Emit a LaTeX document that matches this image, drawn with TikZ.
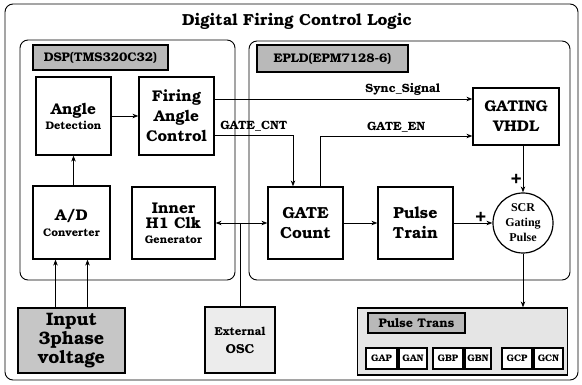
\documentclass[tikz,border=0pt]{standalone}
\usepackage{fontspec}
\setmainfont{TeX Gyre Bonum}
\newfontfamily\scrfont{Liberation Serif}
\usetikzlibrary{arrows.meta}
\begin{document}
\begin{tikzpicture}[x=1pt,y=-1pt,line width=0.9pt,
  blk/.style={shape=rectangle,draw=black,fill=white,line width=1.2pt,align=center,font=\fontsize{15.5}{18}\selectfont\bfseries},
  tag/.style={shape=rectangle,draw=black,fill=gray!55,line width=1.8pt,inner sep=0pt,font=\fontsize{12.5}{14}\selectfont\bfseries},
  cell/.style={shape=rectangle,draw=black,fill=white,line width=1.2pt,inner sep=0pt,minimum height=21,font=\fontsize{9.5}{10}\selectfont\bfseries},
  sig/.style={font=\fontsize{12}{13}\selectfont\bfseries},
  plus/.style={font=\fontsize{18}{18}\selectfont\bfseries,inner sep=1pt},
  arr/.style={-{Stealth[length=6pt,width=4.5pt]}}]
\useasboundingbox (0,0) rectangle (582,385);
% frames
\draw[rounded corners=8pt] (5,4) rectangle (578,380);
\node (title) at (297,21) [font=\fontsize{16}{18}\selectfont\bfseries] {Digital Firing Control Logic};
\draw[rounded corners=8pt] (20,40) rectangle (235,280);
\draw[rounded corners=8pt] (249,41) rectangle (570,280);
\node (dsp) at (100.5,57.5) [tag,minimum width=135,minimum height=25] {DSP(TMS320C32)};
\node (epld) at (332.5,58.5) [tag,minimum width=151,minimum height=27] {EPLD(EPM7128-6)};
% DSP side
\node (angdet) at (73.5,116) [blk,minimum width=75,minimum height=78] {Angle\\[-3pt]{\fontsize{11}{13}\selectfont Detection}};
\node (fac) at (176.5,116) [blk,minimum width=75,minimum height=78,font=\fontsize{15.5}{20}\selectfont\bfseries] {Firing\\Angle\\Control};
\node (adc) at (71.5,222.5) [blk,minimum width=77,minimum height=73] {A/D\\[-2pt]{\fontsize{11}{13}\selectfont Converter}};
\node (clk) at (173.5,223) [blk,minimum width=83,minimum height=72] {Inner\\[-3pt]H1 Clk\\[-3pt]{\fontsize{11}{13}\selectfont Generator}};
\node (input) at (71.5,340.5) [blk,fill=gray!45,line width=1.8pt,minimum width=107,minimum height=65,inner sep=0pt,font=\fontsize{18}{19}\selectfont\bfseries] {Input\\3phase\\voltage};
\node (osc) at (240,340) [blk,fill=gray!15,minimum width=70,minimum height=66] {{\fontsize{11.5}{14}\selectfont External}\\{\fontsize{13}{15}\selectfont OSC}};
% EPLD side
\node (gcnt) at (305.5,223) [blk,minimum width=75,minimum height=72,font=\fontsize{16}{20}\selectfont\bfseries] {GATE\\Count};
\node (ptrain) at (415.5,223) [blk,minimum width=75,minimum height=72,font=\fontsize{16}{20}\selectfont\bfseries] {Pulse\\Train};
\node (gvhdl) at (516,116.5) [blk,minimum width=86,minimum height=57,font=\fontsize{15.5}{20}\selectfont\bfseries] {GATING\\VHDL};
\node (scr) at (523,223) [shape=circle,draw=black,fill=white,line width=1.2pt,minimum size=60,inner sep=0pt,align=center,font=\fontsize{12}{15}\scrfont\bfseries] {SCR\\Gating\\Pulse};
% pulse transformers
\node (ptrans) at (462.5,341.5) [shape=rectangle,draw=black,fill=gray!20,line width=1.2pt,minimum width=210,minimum height=67] {};
\node (ptlabel) at (416.5,323) [tag,minimum width=97,minimum height=20] {Pulse Trans};
\node (gap) at (381.5,358.5) [cell,minimum width=31] {GAP};
\node (gan) at (413,358.5) [cell,minimum width=28] {GAN};
\node (gbp) at (448,358.5) [cell,minimum width=30] {GBP};
\node (gbn) at (478,358.5) [cell,minimum width=26] {GBN};
\node (gcp) at (517,358.5) [cell,minimum width=30] {GCP};
\node (gcn) at (548.5,358.5) [cell,minimum width=29] {GCN};
% connections
\draw[arr] (angdet) -- (fac);
\draw[arr] (angdet.south |- adc.north) -- (angdet.south);
\draw[arr] ([xshift=-16pt]input.north) -- ([xshift=-16pt]adc.south);
\draw[arr] ([xshift=16pt]input.north) -- ([xshift=16pt]adc.south);
\draw[{Stealth[length=6pt,width=4.5pt]}-{Stealth[length=6pt,width=4.5pt]}] (clk.east) -- (gcnt.west);
\draw (osc.north) -- (osc.north |- gcnt.west);
\draw[arr] ([yshift=17pt]fac.east) -- ([yshift=17pt]fac.east -| gvhdl.west) node[sig,pos=0.73,above] {Sync\_Signal};
\draw[arr] ([yshift=-19pt]fac.east) -| ([xshift=-12.5pt]gcnt.north) node[sig,pos=0.25,above] {GATE\_CNT};
\draw[arr] ([xshift=14.5pt]gcnt.north) |- ([yshift=-19.5pt]gvhdl.west) node[sig,pos=0.75,above] {GATE\_EN};
\draw[arr] (gcnt) -- (ptrain);
\draw[arr] (ptrain.east) -- (scr.west) node[plus,pos=0.7,above] {+};
\draw[arr] (scr.north |- gvhdl.south) -- (scr.north) node[plus,pos=0.72,left] {+};
\draw[arr] (scr.south) -- (scr.south |- ptrans.north);
\end{tikzpicture}
\end{document}
